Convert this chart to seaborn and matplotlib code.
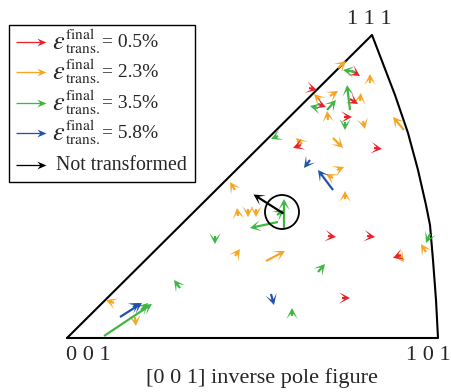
import numpy as np
import pandas as pd
import matplotlib
matplotlib.use("Agg")
import matplotlib.pyplot as plt
import seaborn as sns
from matplotlib.patches import Circle, Rectangle

# ---------------- data (pixel-like coordinates of the IPF drawing) ----------------
# boundary of the standard triangle: 001 -> 101 -> (curved edge) -> 111 -> 001
boundary_x = [67, 438, 436, 433, 430, 426, 418, 408, 395, 372, 67]
boundary_y = [338, 338, 300, 260, 225, 205, 170, 133, 95, 35, 338]

corner_labels = ["0 0 1", "1 0 1", "1 1 1"]
title_text = "[0 0 1] inverse pole figure"

strain_labels = ["0.5%", "2.3%", "3.5%", "5.8%"]

# arrows: tail x, tail y, head x, head y
red_x0 = [352, 309, 318, 350, 344, 301, 374, 328, 367, 401, 342]
red_y0 = [71, 88, 104, 99, 117, 145, 148, 236, 236, 255, 298]
red_x1 = [360, 317, 326, 358, 352, 293, 382, 336, 375, 393, 350]
red_y1 = [76, 90, 107, 104, 117, 148, 149, 237, 237, 258, 298]

orange_x0 = [338, 370, 320, 330, 328, 360, 363, 404, 302, 333, 337, 333, 345, 235, 238, 248, 256, 235, 266, 398, 426, 114, 135]
orange_y0 = [68, 83, 100, 96, 120, 101, 121, 130, 144, 138, 170, 178, 199, 190, 216, 209, 209, 256, 261, 254, 252, 303, 317]
orange_x1 = [346, 370, 314, 338, 327, 361, 365, 393, 296, 343, 344, 326, 345, 230, 237, 248, 256, 240, 285, 404, 421, 106, 136]
orange_y1 = [61, 74, 94, 91, 111, 93, 129, 117, 138, 148, 167, 174, 191, 182, 208, 217, 217, 249, 251, 262, 244, 300, 326]

green_x0 = [355, 350, 327, 318, 345, 278, 284, 278, 215, 180, 104, 141, 318, 292, 430, 277]
green_y0 = [72, 110, 110, 108, 122, 136, 229, 222, 236, 288, 336, 310, 272, 316, 234, 215]
green_x1 = [343, 347, 336, 310, 345, 271, 284, 250, 215, 174, 152, 148, 325, 292, 426, 284]
green_y1 = [70, 85, 100, 106, 130, 139, 199, 228, 244, 280, 304, 303, 264, 308, 243, 210]

blue_x0 = [310, 333, 271, 120, 133]
blue_y0 = [160, 190, 294, 317, 307]
blue_x1 = [304, 318, 274, 142, 140]
blue_y1 = [168, 170, 305, 303, 303]

black_x0 = [283]
black_y0 = [213]
black_x1 = [253]
black_y1 = [194]

colors = {"red": "#e8232b", "orange": "#f6a623", "green": "#3fb641",
          "blue": "#2152a6", "black": "#000000"}

# ---------------- style ----------------
sns.set_theme(style="white")
plt.rcParams["font.family"] = ["Liberation Serif", "DejaVu Serif"]
plt.rcParams["mathtext.fontset"] = "stix"

fig = plt.figure(figsize=(4.52, 3.92), dpi=100)
ax = fig.add_axes([0, 0, 1, 1])

bdf = pd.DataFrame({"x": boundary_x, "y": boundary_y})
sns.lineplot(data=bdf, x="x", y="y", sort=False, estimator=None, color="black",
             linewidth=1.5, ax=ax, legend=False)
ax.set_xlim(0, 452)
ax.set_ylim(392, 0)
ax.axis("off")

qkw = dict(angles="xy", scale_units="xy", scale=1, units="xy", width=2.2,
           headwidth=5.2, headlength=5.0, headaxislength=2.6, minshaft=0.2,
           minlength=0.5, zorder=3)

def draw(x0, y0, x1, y1, col):
    x0 = np.asarray(x0, float); y0 = np.asarray(y0, float)
    u = np.asarray(x1, float) - x0
    v = np.asarray(y1, float) - y0
    ax.quiver(x0, y0, u, v, color=col, **qkw)

draw(orange_x0, orange_y0, orange_x1, orange_y1, colors["orange"])
draw(red_x0, red_y0, red_x1, red_y1, colors["red"])
draw(green_x0, green_y0, green_x1, green_y1, colors["green"])
draw(blue_x0, blue_y0, blue_x1, blue_y1, colors["blue"])
draw(black_x0, black_y0, black_x1, black_y1, colors["black"])

ax.add_patch(Circle((282, 212), 17, fill=False, edgecolor="black", linewidth=1.3, zorder=4))

# corner labels
ax.text(88, 356, corner_labels[0], ha="center", va="center", fontsize=16)
ax.text(451, 356, corner_labels[1], ha="right", va="center", fontsize=16)
ax.text(369, 19, corner_labels[2], ha="center", va="center", fontsize=16)
ax.text(262, 378, title_text, ha="center", va="center", fontsize=16)

# legend drawn in the axes
ax.add_patch(Rectangle((9, 25), 186, 157, fill=False, edgecolor="black", linewidth=1.0, zorder=5))
leg_y = [42, 72, 103, 133, 165]
leg_cols = [colors["red"], colors["orange"], colors["green"], colors["blue"], colors["black"]]
for i, (yy, cc) in enumerate(zip(leg_y, leg_cols)):
    ax.quiver([16], [yy], [30], [0], color=cc, angles="xy", scale_units="xy", scale=1,
              units="xy", width=1.3, headwidth=6, headlength=7, headaxislength=5, zorder=6)
    if i < len(strain_labels):
        ax.text(52, yy + 1, r"$\varepsilon$", ha="left", va="center", fontsize=19)
        ax.text(65, yy, r"$_{\mathrm{trans.}}^{\mathrm{final}}$", ha="left", va="center", fontsize=16)
        ax.text(102, yy, "= " + strain_labels[i], ha="left", va="center", fontsize=14)
    else:
        ax.text(56, yy, "Not transformed", ha="left", va="center", fontsize=14.3)

fig.savefig("out.png", dpi=100)
